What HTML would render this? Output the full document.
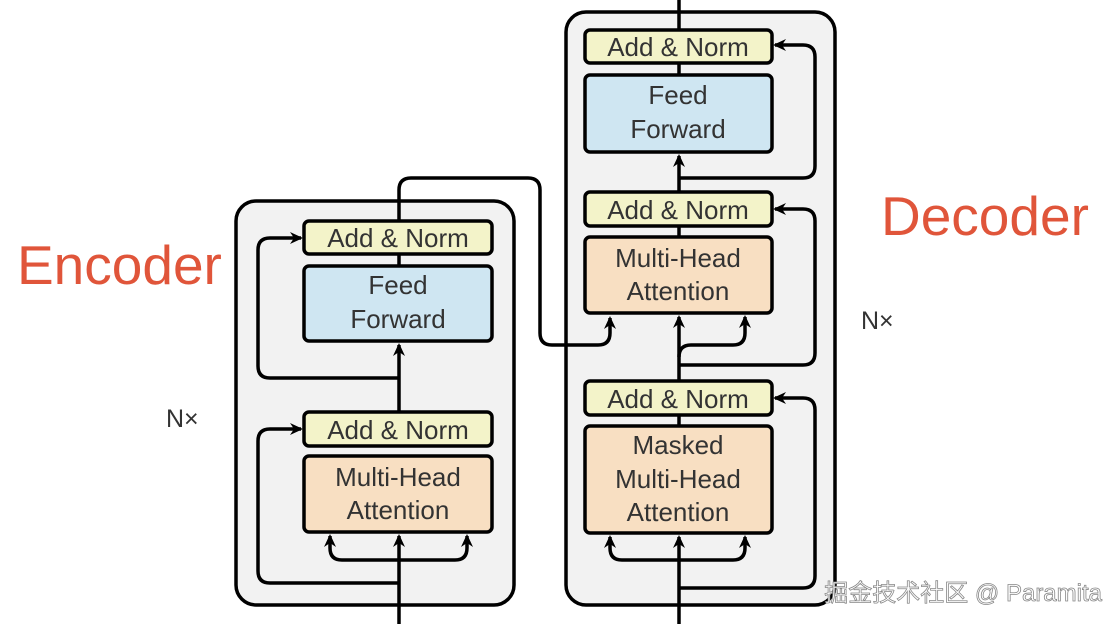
<!DOCTYPE html>
<html><head><meta charset="utf-8"><style>
html,body{margin:0;padding:0;background:#fff;width:1120px;height:624px;overflow:hidden}
svg{display:block}
text{font-family:"Liberation Sans",sans-serif;fill:#333}
</style></head><body>
<svg width="1120" height="624" viewBox="0 0 1120 624" xmlns="http://www.w3.org/2000/svg">
<defs>
<marker id="a" markerWidth="14" markerHeight="14" refX="11" refY="7" orient="auto" markerUnits="userSpaceOnUse">
<path d="M0,1 L13,7 L0,13 L4,7 Z" fill="#000"/></marker>
</defs>
<rect x="236" y="201" width="278" height="404" rx="20" fill="#f2f2f2" stroke="#000" stroke-width="3.5"/>
<rect x="566" y="12" width="269" height="593" rx="20" fill="#f2f2f2" stroke="#000" stroke-width="3.5"/>
<g fill="none" stroke="#000" stroke-width="3.5">
<path d="M399 624 V536" marker-end="url(#a)"/>
<path d="M399 446 V412"/>
<path d="M399 412 V345" marker-end="url(#a)"/>
<path d="M399 266 V254"/>
<path d="M399 221 V190 Q399 178 411 178 H528 Q540 178 540 190 V333 Q540 345 552 345 H598 Q610 345 610 333 V318" marker-end="url(#a)"/>
<path d="M399 560 H342 Q330 560 330 548 V536" marker-end="url(#a)"/>
<path d="M399 560 H455 Q467 560 467 548 V536" marker-end="url(#a)"/>
<path d="M399 583 H270 Q258 583 258 571 V441 Q258 429 270 429 H301" marker-end="url(#a)"/>
<path d="M399 378 H270 Q258 378 258 366 V250 Q258 238 270 238 H301" marker-end="url(#a)"/>
<path d="M679 624 V537" marker-end="url(#a)"/>
<path d="M679 426 V415"/>
<path d="M679 381 V317" marker-end="url(#a)"/>
<path d="M679 357 Q679 345 691 345 H733 Q745 345 745 333 V317" marker-end="url(#a)"/>
<path d="M679 237 V226"/>
<path d="M679 192 V156" marker-end="url(#a)"/>
<path d="M679 75 V63"/>
<path d="M679 30 V0"/>
<path d="M679 560 H622 Q610 560 610 548 V537" marker-end="url(#a)"/>
<path d="M679 560 H733 Q745 560 745 548 V537" marker-end="url(#a)"/>
<path d="M679 588 H803 Q815 588 815 576 V410 Q815 398 803 398 H775" marker-end="url(#a)"/>
<path d="M679 365 H803 Q815 365 815 353 V221 Q815 209 803 209 H775" marker-end="url(#a)"/>
<path d="M679 178 H803 Q815 178 815 166 V57 Q815 45 803 45 H775" marker-end="url(#a)"/>
</g>
<g stroke="#000" stroke-width="3.5">
<rect x="304" y="221" width="188" height="33" rx="5" fill="#f3f3c9"/>
<rect x="304" y="266" width="188" height="75" rx="5" fill="#cfe6f2"/>
<rect x="304" y="412" width="188" height="34" rx="5" fill="#f3f3c9"/>
<rect x="304" y="456" width="188" height="76" rx="5" fill="#f8dfc2"/>
<rect x="585" y="30" width="187" height="33" rx="5" fill="#f3f3c9"/>
<rect x="585" y="75" width="187" height="77" rx="5" fill="#cfe6f2"/>
<rect x="585" y="192" width="187" height="34" rx="5" fill="#f3f3c9"/>
<rect x="585" y="237" width="187" height="76" rx="5" fill="#f8dfc2"/>
<rect x="585" y="381" width="187" height="34" rx="5" fill="#f3f3c9"/>
<rect x="585" y="426" width="187" height="107" rx="5" fill="#f8dfc2"/>
</g>
<g font-size="26" text-anchor="middle">
<text x="398" y="247">Add &amp; Norm</text>
<text x="398" y="294">Feed</text>
<text x="398" y="328">Forward</text>
<text x="398" y="439">Add &amp; Norm</text>
<text x="398" y="486">Multi-Head</text>
<text x="398" y="519">Attention</text>
<text x="678" y="56">Add &amp; Norm</text>
<text x="678" y="104">Feed</text>
<text x="678" y="138">Forward</text>
<text x="678" y="219">Add &amp; Norm</text>
<text x="678" y="267">Multi-Head</text>
<text x="678" y="300">Attention</text>
<text x="678" y="408">Add &amp; Norm</text>
<text x="678" y="454">Masked</text>
<text x="678" y="488">Multi-Head</text>
<text x="678" y="521">Attention</text>
</g>
<text x="17" y="284" font-size="55" style="fill:#e0553a">Encoder</text>
<text x="881" y="235" font-size="55" style="fill:#e0553a">Decoder</text>
<text x="166" y="427" font-size="25">N×</text>
<text x="861" y="329" font-size="25">N×</text>
<text x="1102" y="601" font-size="24" text-anchor="end" style="fill:#fff;stroke:#888;stroke-width:0.8;font-family:'Liberation Sans','Noto Sans CJK SC',sans-serif">掘金技术社区 @ Paramita</text>
</svg>
</body></html>
